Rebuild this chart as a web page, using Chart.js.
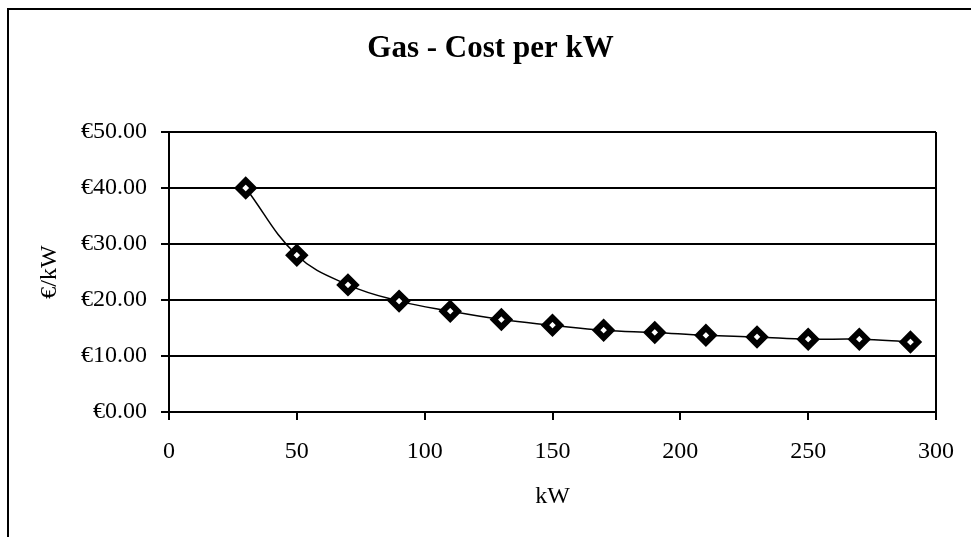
<!DOCTYPE html>
<html>
<head>
<meta charset="utf-8">
<title>Gas - Cost per kW</title>
<script src="https://cdn.jsdelivr.net/npm/chart.js@4/dist/chart.umd.min.js"></script>
<style>
  html, body { margin: 0; padding: 0; background: #fff; }
  #wrap { width: 971px; height: 537px; }
</style>
</head>
<body>
<div id="wrap"><canvas id="chart" width="971" height="537"></canvas></div>
<script>
// Boiler output (kW) and the gas installation cost per kW at each size
const kW = [30, 50, 70, 90, 110, 130, 150, 170, 190, 210, 230, 250, 270, 290];
const costPerKw = [40.0, 28.0, 22.7, 19.8, 18.0, 16.5, 15.5, 14.6, 14.2, 13.7, 13.4, 13.0, 13.0, 12.5];

const titleText = 'Gas - Cost per kW';
const xTitle = 'kW';
const yTitle = '\u20AC/kW';

const serif = "'Liberation Serif', 'Times New Roman', serif";

// White page with the frame that surrounds the whole chart
const framePlugin = {
  id: 'frame',
  beforeDraw(chart) {
    const c = chart.ctx;
    c.save();
    c.fillStyle = '#fff';
    c.fillRect(0, 0, chart.width, chart.height);
    c.strokeStyle = '#000';
    c.lineWidth = 2;
    c.beginPath();
    c.moveTo(8, chart.height);
    c.lineTo(8, 9);
    c.lineTo(chart.width, 9);
    c.stroke();
    c.restore();
  }
};

new Chart(document.getElementById('chart'), {
  type: 'line',
  data: {
    datasets: [{
      data: kW.map((x, i) => ({ x: x, y: costPerKw[i] })),
      borderColor: '#000',
      borderWidth: 1.5,
      tension: 0.4,
      fill: false,
      pointStyle: 'rectRot',
      pointRadius: 7.5,
      pointBackgroundColor: '#fff',
      pointBorderColor: '#000',
      pointBorderWidth: 6
    }]
  },
  options: {
    responsive: false,
    animation: false,
    devicePixelRatio: 1,
    layout: { padding: { left: 22, right: 12, top: 0, bottom: 0 } },
    plugins: {
      legend: { display: false },
      tooltip: { enabled: false },
      title: {
        display: true,
        text: titleText,
        color: '#000',
        font: { family: serif, size: 31, weight: 'bold', lineHeight: 1.2 },
        padding: { top: 30, bottom: 64.8 }
      }
    },
    scales: {
      x: {
        type: 'linear',
        min: 0,
        max: 300,
        afterFit(scale) { scale.height = 125; },
        ticks: {
          stepSize: 50,
          color: '#000',
          padding: 17,
          font: { family: serif, size: 24 }
        },
        grid: {
          drawOnChartArea: true,
          color: (ctx) => (ctx.tick && ctx.tick.value === 300 ? '#000' : 'rgba(0,0,0,0)'),
          lineWidth: 2,
          tickColor: '#000',
          tickLength: 8,
          tickWidth: 2
        },
        border: { display: true, color: '#000', width: 2 },
        title: {
          display: true,
          text: xTitle,
          color: '#000',
          font: { family: serif, size: 24, lineHeight: 1.2 },
          padding: { top: 0, bottom: 26 }
        }
      },
      y: {
        min: 0,
        max: 50,
        afterFit(scale) { scale.width = 147; },
        ticks: {
          stepSize: 10,
          color: '#000',
          padding: 14,
          font: { family: serif, size: 24 },
          callback: (v) => '\u20AC' + Number(v).toFixed(2)
        },
        grid: {
          color: '#000',
          lineWidth: 2,
          tickLength: 8,
          tickColor: '#000'
        },
        border: { display: true, color: '#000', width: 2 },
        title: {
          display: true,
          text: yTitle,
          color: '#000',
          font: { family: serif, size: 24, lineHeight: 1.2 },
          padding: { top: 13, bottom: 0 }
        }
      },
      // empty right-hand margin beside the plot
      yRight: {
        position: 'right',
        min: 0,
        max: 50,
        afterFit(scale) { scale.width = 22; },
        ticks: { display: false },
        grid: { display: false },
        border: { display: false }
      }
    }
  },
  plugins: [framePlugin]
});
</script>
</body>
</html>
